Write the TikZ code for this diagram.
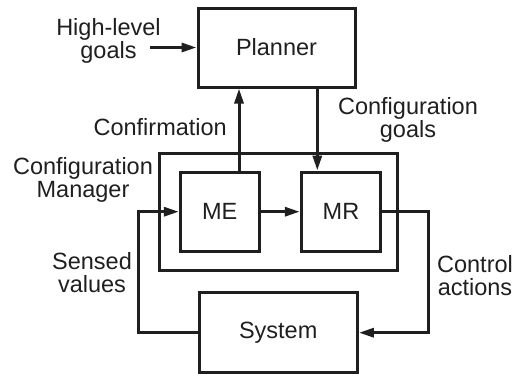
\documentclass[tikz,border=0pt]{standalone}
\usepackage{fontspec}
\setmainfont{Liberation Sans}
\usetikzlibrary{arrows.meta}
\begin{document}
\begin{tikzpicture}[x=1pt,y=-1pt,
  every node/.style={font=\fontsize{23.5}{23}\selectfont},
  blk/.style={draw, line width=3pt, inner sep=0pt, text=black!88},
  lbl/.style={inner sep=0pt, align=center, text=black!88},
  arr/.style={line width=3pt, -{Triangle[length=15pt,width=9pt]}}]
\useasboundingbox (0,0) rectangle (516,373);
\begin{scope}[draw=black!88]
\node[blk, minimum width=157pt, minimum height=79pt] (planner) at (276.5,47.5) {Planner};
\node[blk, minimum width=238.3pt, minimum height=117.3pt] (cm) at (278.8,211.7) {};
\node[blk, minimum width=78.7pt, minimum height=79.3pt] (me) at (219.7,211.7) {ME};
\node[blk, minimum width=79.4pt, minimum height=79.3pt] (mr) at (341,211.7) {MR};
\node[blk, minimum width=158.3pt, minimum height=80pt] (system) at (278.2,332.7) {System};

\node[lbl, anchor=base] (hl) at (108.5,58) {High-level\\goals};
\node[lbl, anchor=base east] (conf) at (227,135) {Confirmation};
\node[lbl, anchor=base] (cg) at (408,137) {Configuration\\goals};
\node[lbl, anchor=base] (cml) at (83,197) {Configuration\\Manager};
\node[lbl, anchor=base] (sv) at (92,292) {Sensed\\values};
\node[lbl, anchor=base] (ca) at (475,295) {Control\\actions};

\coordinate (hlstart) at (150,47.5);
\coordinate (cx) at (239,0);
\coordinate (gx) at (317.3,0);
\coordinate (lft) at (138.7,0);
\coordinate (rgt) at (428,0);

\draw[arr, draw=black!88] (hlstart) -- (planner.west);
\draw[arr, draw=black!88] (me.north -| cx) -- (planner.south -| cx);
\draw[arr, draw=black!88] (planner.south -| gx) -- (mr.north -| gx);
\draw[arr, draw=black!88] (me.east) -- (mr.west);
\draw[arr, draw=black!88] (mr.east) -- (mr.east -| rgt) -- (system.east -| rgt) -- (system.east);
\draw[arr, draw=black!88] (system.west) -- (system.west -| lft) -- (me.west -| lft) -- (me.west);
\end{scope}
\end{tikzpicture}
\end{document}
